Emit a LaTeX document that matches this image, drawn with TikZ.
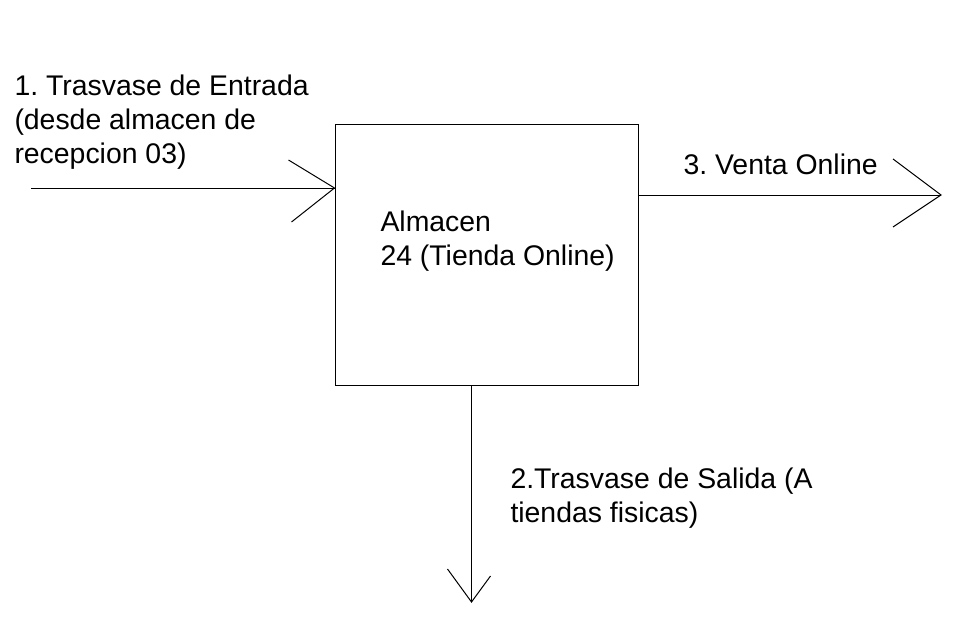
\documentclass[tikz,border=0pt]{standalone}
\usepackage{fontspec}
\setmainfont{Liberation Sans}
\frenchspacing
\begin{document}
\begin{tikzpicture}[x=0.75pt,y=-0.75pt,line width=0.75pt,
  lbl/.style={anchor=base west,inner sep=0pt,align=left,font=\fontsize{21.3}{25.5}\selectfont}]
\useasboundingbox (0,0) rectangle (959,628);
\node (box) [draw,inner sep=0pt,minimum width=227.25pt,minimum height=195.75pt] at (486.5,254.5) {};
\node (boxtext) [lbl] at (380,265) {Almacen\\24 (Tienda Online)};
\node (inlbl) [lbl] at (14,163) {1. Trasvase de Entrada\\(desde almacen de\\recepcion 03)};
\node (outlbl) [lbl] at (683,174) {3. Venta Online};
\node (downlbl) [lbl] at (510,522) {2.Trasvase de Salida (A\\tiendas fisicas)};
% input
\coordinate (inStart) at (31,188);
\draw (inStart) -- (box.west |- inStart) coordinate (inTip);
\draw (inTip) ++(-46,-28) -- (inTip) -- ++(-43,34);
% output right
\coordinate (outEnd) at (941,195);
\draw (box.east |- outEnd) -- (outEnd);
\draw (outEnd) ++(-48,-36) -- (outEnd) -- ++(-48,32);
% output down
\coordinate (downEnd) at (471.5,602);
\draw (box.south -| downEnd) -- (downEnd);
\draw (downEnd) ++(-24,-33) -- (downEnd) -- ++(19,-26);
\end{tikzpicture}
\end{document}
